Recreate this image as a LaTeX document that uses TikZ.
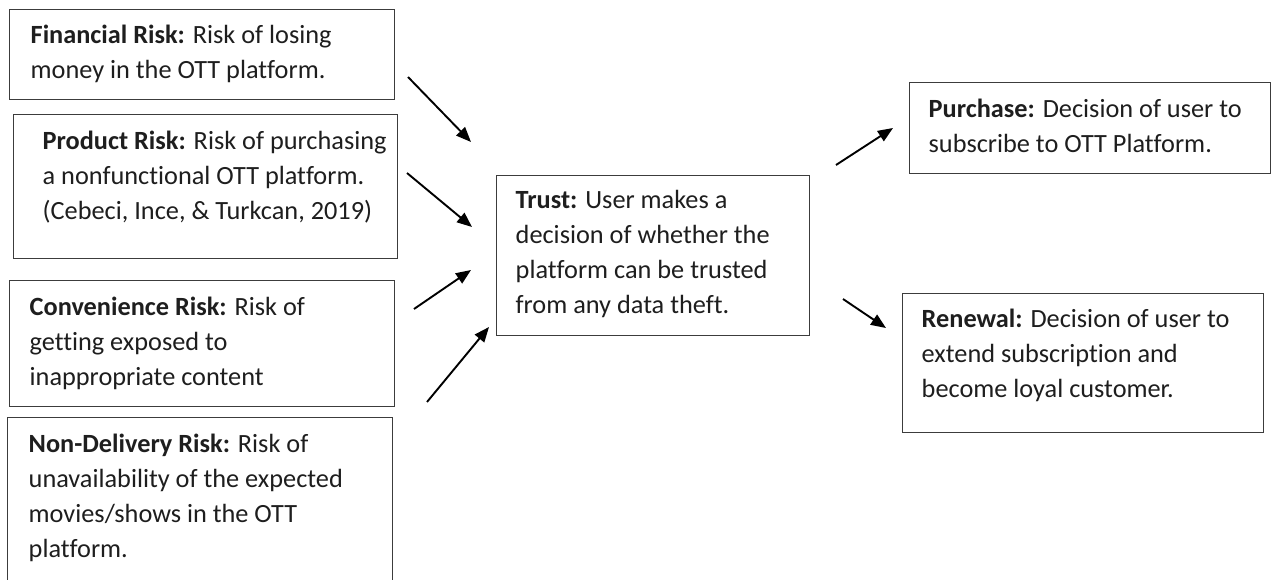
\documentclass[tikz,border=0pt]{standalone}
\usepackage{fontspec}
\setmainfont{Carlito}[Ligatures=NoCommon]
\usetikzlibrary{arrows.meta}
\definecolor{boxgray}{HTML}{3C3C3C}
\definecolor{txt}{HTML}{1E1E1E}
\hbadness=10000 \hfuzz=200pt
\newcommand\bxt[5]{\parbox[c][#1][t]{#2}{\raggedright\leftskip=#5\relax\rule{0pt}{#3}#4}}
\begin{document}
\begin{tikzpicture}[x=1pt,y=-1pt,
  box/.style={draw=boxgray, line width=1.4pt, anchor=north west, inner sep=0pt,
    text=txt, font=\fontsize{26.3}{35}\selectfont},
  arr/.style={line width=1.9pt, -{Triangle[length=15pt,width=12pt]}}]
\useasboundingbox[fill=white] (0,0) rectangle (1271,580);
\clip (0,0) rectangle (1271,580);
% left column
\node[box] (fin) at (9,9)
  {\bxt{90pt}{385pt}{34pt}{\textbf{Financial Risk:} Risk of losing\\money in the OTT platform.}{21pt}};
\node[box] (prod) at (13,114)
  {\bxt{144pt}{384pt}{35pt}{\textbf{Product Risk:} Risk of purchasing\\a nonfunctional OTT platform.\\(Cebeci, Ince, \& Turkcan, 2019)}{29pt}};
\node[box] (conv) at (9,280)
  {\bxt{126pt}{385pt}{35pt}{\textbf{Convenience Risk:} Risk of\\getting exposed to\\inappropriate content}{20pt}};
\node[box] (nond) at (7,417)
  {\bxt{200pt}{385pt}{35pt}{\textbf{Non-Delivery Risk:} Risk of\\unavailability of the expected\\movies/shows in the OTT\\platform.}{21pt}};
% centre
\node[box] (trust) at (496,175)
  {\bxt{160pt}{313pt}{33pt}{\textbf{Trust:} User makes a\\decision of whether the\\platform can be trusted\\from any data theft.}{19pt}};
% right column
\node[box] (pur) at (909,82)
  {\bxt{91pt}{361pt}{35pt}{\textbf{Purchase:} Decision of user to\\subscribe to OTT Platform.}{19pt}};
\node[box] (ren) at (902,293)
  {\bxt{139pt}{361pt}{34pt}{\textbf{Renewal:} Decision of user to\\extend subscription and\\become loyal customer.}{19pt}};
% arrow end points
\coordinate (a1s) at (408,77);  \coordinate (a1e) at (471,142);
\coordinate (a2s) at (407,173); \coordinate (a2e) at (472,227);
\coordinate (a3s) at (414,309); \coordinate (a3e) at (471,270);
\coordinate (a4s) at (427,402); \coordinate (a4e) at (489,327);
\coordinate (a5s) at (836,165); \coordinate (a5e) at (893,128);
\coordinate (a6s) at (843,299); \coordinate (a6e) at (886,328);
\draw[arr] (a1s) -- (a1e);
\draw[arr] (a2s) -- (a2e);
\draw[arr] (a3s) -- (a3e);
\draw[arr] (a4s) -- (a4e);
\draw[arr] (a5s) -- (a5e);
\draw[arr] (a6s) -- (a6e);
\end{tikzpicture}
\end{document}
